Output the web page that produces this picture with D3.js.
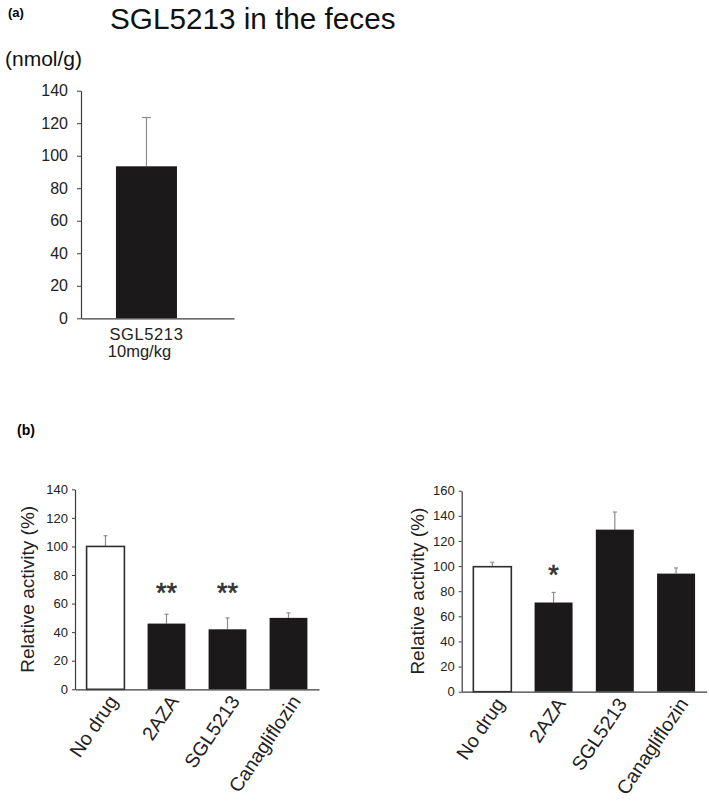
<!DOCTYPE html>
<html>
<head>
<meta charset="utf-8">
<script src="https://cdn.jsdelivr.net/npm/d3@7"></script>
<style>
  html, body { margin: 0; padding: 0; background: #ffffff; }
  svg { display: block; }
</style>
</head>
<body>
<div id="chart"></div>
<script>
// ---- data ----

/** (a) SGL5213 in the feces */
const fecesCategories = ["SGL5213"]
const fecesValues = [93.5]
const fecesErrors = [30]
const fecesTicks = [0, 20, 40, 60, 80, 100, 120, 140]

/** (b) relative activity, shared categories */
const activityCategories = ["No drug", "2AZA", "SGL5213", "Canagliflozin"]

/** (b) left panel */
const leftValues = [100, 46, 42, 50]
const leftErrors = [7.5, 6.5, 8, 3.5]
const leftMarks = ["", "**", "**", ""]
const leftMarkLevel = 72
const leftTicks = [0, 20, 40, 60, 80, 100, 120, 140]

/** (b) right panel */
const rightValues = [99.5, 71, 129, 94]
const rightErrors = [3.5, 8, 14, 4.5]
const rightMarks = ["", "*", "", ""]
const rightMarkLevel = 98
const rightTicks = [0, 20, 40, 60, 80, 100, 120, 140, 160]

// ---- drawing ----

const FONT = "'Liberation Sans', Arial, Helvetica, sans-serif"
const AXIS_COLOR = "#3c3c3c"
const BAR_COLOR = "#1b1919"
const ERR_COLOR = "#8c8c8c"

const svg = d3.select("#chart").append("svg")
    .attr("width", 709)
    .attr("height", 802)
    .attr("font-family", FONT)

/** panel letters */
svg.append("text").attr("x", 8).attr("y", 17)
    .attr("font-size", 13).attr("font-weight", "bold").text("(a)")
svg.append("text").attr("x", 17).attr("y", 435)
    .attr("font-size", 14).attr("font-weight", "bold").text("(b)")

/** title and unit of panel (a) */
svg.append("text").attr("x", 110).attr("y", 29)
    .attr("font-size", 29.7).attr("fill", "#111").text("SGL5213 in the feces")
svg.append("text").attr("x", 5).attr("y", 66)
    .attr("font-size", 21).attr("fill", "#111").text("(nmol/g)")

/** styles the axis group that d3 produced */
function styleAxis(g, fontSize) {
    g.attr("font-family", FONT).attr("font-size", fontSize)
    g.select(".domain").attr("stroke", AXIS_COLOR).attr("stroke-width", 1.2)
    g.selectAll(".tick line").attr("stroke", AXIS_COLOR)
    g.selectAll(".tick text").attr("fill", "#222")
}

/**
 * Draws bars with upper error whiskers.
 * @param g - group to draw in
 * @param x - band scale, y - linear scale
 */
function drawBars(g, categories, values, errors, x, y, capWidth) {
    const rows = categories.map((c, i) => ({ c, v: values[i], e: errors[i] }))

    // error whiskers (drawn first so the bar covers the stem)
    const err = g.append("g").selectAll("g").data(rows).enter().append("g")
    err.append("line")
        .attr("x1", d => x(d.c) + x.bandwidth() / 2)
        .attr("x2", d => x(d.c) + x.bandwidth() / 2)
        .attr("y1", d => y(d.v))
        .attr("y2", d => y(d.v + d.e))
        .attr("stroke", ERR_COLOR).attr("stroke-width", 1.2)
    err.append("line")
        .attr("x1", d => x(d.c) + x.bandwidth() / 2 - capWidth / 2)
        .attr("x2", d => x(d.c) + x.bandwidth() / 2 + capWidth / 2)
        .attr("y1", d => y(d.v + d.e))
        .attr("y2", d => y(d.v + d.e))
        .attr("stroke", ERR_COLOR).attr("stroke-width", 1.2)

    g.append("g").selectAll("rect").data(rows).enter().append("rect")
        .attr("x", d => x(d.c))
        .attr("y", d => y(d.v))
        .attr("width", x.bandwidth())
        .attr("height", d => y(0) - y(d.v))
        .attr("fill", d => d.c === "No drug" ? "#ffffff" : BAR_COLOR)
        .attr("stroke", d => d.c === "No drug" ? "#2e2e2e" : "none")
        .attr("stroke-width", 1.6)
}

// ---------- panel (a) ----------
{
    const x = d3.scaleBand()
        .domain(fecesCategories)
        .range([81, 234])
        .paddingInner(0)
        .paddingOuter(0.754)
        .align(0.38)
    const y = d3.scaleLinear().domain([0, 140]).range([318.3, 90.7])

    const g = svg.append("g")
    drawBars(g, fecesCategories, fecesValues, fecesErrors, x, y, 9)

    const yAxis = g.append("g")
        .attr("transform", "translate(81,0)")
        .call(d3.axisLeft(y).tickValues(fecesTicks).tickSize(4).tickPadding(9).tickSizeOuter(0))
    styleAxis(yAxis, 16)

    const xAxis = g.append("g")
        .attr("transform", `translate(0,${y(0)})`)
        .call(d3.axisBottom(x).tickSize(0).tickSizeOuter(0).tickFormat(""))
    styleAxis(xAxis, 16)

    // category label in two lines
    const cx = x(fecesCategories[0]) + x.bandwidth() / 2
    g.append("text").attr("x", cx).attr("y", y(0) + 22)
        .attr("text-anchor", "middle").attr("font-size", 16.5).attr("fill", "#222")
        .attr("letter-spacing", 0.6)
        .text(fecesCategories[0])
    g.append("text").attr("x", cx - 7).attr("y", y(0) + 38.5)
        .attr("text-anchor", "middle").attr("font-size", 16.5).attr("fill", "#222")
        .text("10mg/kg")
}

// ---------- panel (b) ----------
/** draws one relative activity chart */
function drawActivity(opt, values, errors, marks, markLevel, ticks) {
    const x = d3.scaleBand()
        .domain(activityCategories)
        .range([opt.left, opt.right])
        .paddingInner(0.38)
        .paddingOuter(0.19)
    const y = d3.scaleLinear().domain([0, ticks[ticks.length - 1]]).range([opt.bottom, opt.top])

    const g = svg.append("g")
    drawBars(g, activityCategories, values, errors, x, y, 4)

    const yAxis = g.append("g")
        .attr("transform", `translate(${opt.left},0)`)
        .call(d3.axisLeft(y).tickValues(ticks).tickSize(3).tickPadding(4).tickSizeOuter(0))
    styleAxis(yAxis, 13)

    const xAxis = g.append("g")
        .attr("transform", `translate(0,${y(0)})`)
        .call(d3.axisBottom(x).tickSize(0).tickSizeOuter(0))
    styleAxis(xAxis, 19.5)
    xAxis.selectAll(".tick text")
        .attr("text-anchor", "end")
        .attr("x", 0).attr("y", 0).attr("dy", 0)
        .attr("transform", "translate(13,12) rotate(-56)")

    // significance marks
    g.append("g").selectAll("text")
        .data(activityCategories.map((c, i) => ({ c, m: marks[i] })).filter(d => d.m))
        .enter().append("text")
        .attr("x", d => x(d.c) + x.bandwidth() / 2)
        .attr("y", y(markLevel))
        .attr("dy", "0.58em")
        .attr("text-anchor", "middle")
        .attr("font-size", 27)
        .attr("fill", "#333")
        .attr("stroke", "#333").attr("stroke-width", 0.6)
        .text(d => d.m)

    // y axis label
    g.append("text")
        .attr("transform", `translate(${opt.labelX},${(opt.top + opt.bottom) / 2}) rotate(-90)`)
        .attr("text-anchor", "middle")
        .attr("font-size", 19)
        .attr("fill", "#222")
        .text("Relative activity (%)")
}

drawActivity({ left: 75, right: 319, top: 489.3, bottom: 689.3, labelX: 33.5 },
    leftValues, leftErrors, leftMarks, leftMarkLevel, leftTicks)
drawActivity({ left: 461.7, right: 706.7, top: 490.7, bottom: 691.7, labelX: 423.5 },
    rightValues, rightErrors, rightMarks, rightMarkLevel, rightTicks)
</script>
</body>
</html>
